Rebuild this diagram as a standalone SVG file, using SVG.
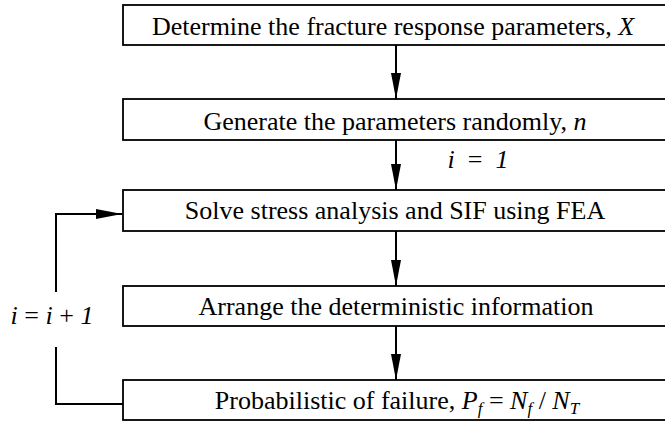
<svg xmlns="http://www.w3.org/2000/svg" width="665" height="421" viewBox="0 0 665 421">
<style>
.box{fill:#fff;stroke:#000;stroke-width:1.8}
.t{font-family:"Liberation Serif","Times New Roman",serif;font-size:26px;fill:#000;text-anchor:middle}
.i{font-style:italic}
.c{fill:none;stroke:#000;stroke-width:2}
</style>
<defs>
<marker id="ah" markerWidth="26" markerHeight="10" refX="26" refY="5" orient="auto" markerUnits="userSpaceOnUse" viewBox="0 0 26 10">
<path d="M0,0 L26,5 L0,10 Z" fill="#000"/>
</marker>
</defs>
<rect width="665" height="421" fill="#fff"/>
<g id="n1"><rect class="box" x="123" y="5" width="546" height="40"/><text class="t" x="393" y="35">Determine the fracture response parameters, <tspan class="i">X</tspan></text></g>
<g id="n2"><rect class="box" x="123" y="99" width="546" height="41"/><text class="t" x="395" y="130">Generate the parameters randomly, <tspan class="i">n</tspan></text></g>
<g id="n3"><rect class="box" x="123" y="190" width="546" height="41"/><text class="t" x="395" y="219">Solve stress analysis and SIF using FEA</text></g>
<g id="n4"><rect class="box" x="123" y="286" width="546" height="40"/><text class="t" x="396" y="315">Arrange the deterministic information</text></g>
<g id="n5"><rect class="box" x="123" y="380" width="546" height="40"/><text class="t" x="397" y="409">Probabilistic of failure, <tspan class="i">P</tspan><tspan class="i" font-size="17" dy="5">f</tspan><tspan dy="-5"> = </tspan><tspan class="i">N</tspan><tspan class="i" font-size="17" dy="5">f</tspan><tspan dy="-5"> / </tspan><tspan class="i">N</tspan><tspan class="i" font-size="17" dy="5">T</tspan></text></g>
<g id="connectors">
<line class="c" x1="396" y1="45" x2="396" y2="99" marker-end="url(#ah)"/>
<line class="c" x1="396" y1="140" x2="396" y2="190" marker-end="url(#ah)"/>
<line class="c" x1="396" y1="231" x2="396" y2="286" marker-end="url(#ah)"/>
<line class="c" x1="396" y1="326" x2="396" y2="380" marker-end="url(#ah)"/>
<polyline class="c" points="123,404 56,404 56,347"/>
<polyline class="c" points="56,292 56,214 122,214" marker-end="url(#ah)"/>
</g>
<g id="labels">
<text class="t" x="478" y="168" xml:space="preserve"><tspan class="i">i</tspan>  =  <tspan class="i">1</tspan></text>
<text class="t" x="52" y="324"><tspan class="i">i</tspan> = <tspan class="i">i</tspan> + <tspan class="i">1</tspan></text>
</g>
</svg>
